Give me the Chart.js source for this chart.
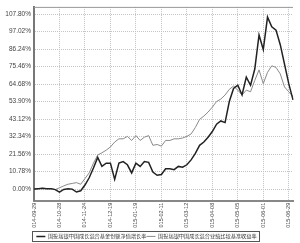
<!DOCTYPE html>
<html>
<head>
<meta charset="utf-8">
<script src="https://cdn.jsdelivr.net/npm/chart.js@4.4.0/dist/chart.umd.min.js"></script>
<style>
  html, body { margin: 0; padding: 0; background: #fff; }
  #wrap { width: 300px; height: 243px; }
</style>
</head>
<body>
<div id="wrap"><canvas id="myChart" width="300" height="243"></canvas></div>
<script>
// x tick labels (one every 6 points)
const tickLabels = ['2014-09-29', '2014-10-28', '2014-11-24', '2014-12-19', '2015-01-19', '2015-02-11',
  '2015-03-12', '2015-04-08', '2015-05-05', '2015-06-01', '2015-06-29'];
const step = 6;

// y ticks
const yTicks = [0, 10.78, 21.56, 32.34, 43.12, 53.90, 64.68, 75.46, 86.24, 97.02, 107.80];

// fund nav growth (%)
const fundValues = [0, 0.3, 0.5, 0.2, 0.3, -0.3, -1.8, -0.2, 0.2, 0, -1.8, -1.0,
  2.5, 7, 13, 19.5, 14, 16, 16, 6, 16, 17, 15, 10,
  16, 14, 17, 16.5, 10.5, 8.5, 9, 12.5, 12.5, 12, 14, 13.5,
  15, 18, 22, 27, 29, 32, 35.5, 40, 42, 41, 54, 62,
  64, 58, 69, 64, 74, 95, 86, 106, 100, 98, 89, 77, 65, 55];

// benchmark return (%)
const benchValues = [0, 0.3, 0.5, 0.3, 0.3, -0.3, 0.8, 2, 3, 3.5, 4, 3,
  6.5, 10, 16, 21, 22.4, 24, 26, 29, 31, 31, 32.5, 30,
  33, 30, 32, 33, 27, 27.5, 26.5, 30, 30, 31, 31, 31.5,
  32.5, 34, 38, 43, 45, 47.5, 50.5, 54, 55.5, 58, 61.5, 63.5,
  61, 58, 61, 60, 67, 73.5, 65, 72, 76, 75, 71, 63, 60, 57];

const fundName = '国投瑞银中国成长混合基金份额净值增长率';
const benchName = '国投瑞银中国成长混合业绩比较基准收益率';

const categories = fundValues.map(function (v, i) { return i; });

const frame = {
  id: 'frame',
  afterLayout(chart) {
    // push the legend a bit lower, under the date labels
    chart.legend.top += 6;
    chart.legend.bottom += 6;
  },
  beforeDatasetsDraw(chart) {
    const c = chart.ctx, a = chart.chartArea;
    c.save();
    c.strokeStyle = '#999';
    c.lineWidth = 1;
    c.beginPath();
    c.moveTo(a.left, a.top + 0.5);
    c.lineTo(a.right, a.top + 0.5);
    c.stroke();
    c.restore();
  },
  afterDraw(chart) {
    const boxes = chart.legend.legendHitBoxes;
    if (!boxes || !boxes.length) return;
    let l = Infinity, r = -Infinity, t = Infinity, b = -Infinity;
    boxes.forEach(function (h) {
      l = Math.min(l, h.left); r = Math.max(r, h.left + h.width);
      t = Math.min(t, h.top); b = Math.max(b, h.top + h.height);
    });
    const c = chart.ctx;
    c.save();
    c.strokeStyle = '#555';
    c.lineWidth = 1;
    c.strokeRect(Math.round(l) - 3.5, Math.round(t) - 2.5, Math.round(r - l) + 7, Math.round(b - t) + 5);
    c.restore();
  }
};

const ctx = document.getElementById('myChart').getContext('2d');
const myChart = new Chart(ctx, {
  type: 'line',
  data: {
    labels: categories,
    datasets: [{
      label: fundName,
      data: fundValues,
      borderColor: '#222',
      borderWidth: 1.5,
      pointRadius: 0,
      tension: 0,
      fill: false
    }, {
      label: benchName,
      data: benchValues,
      borderColor: '#8a8a8a',
      borderWidth: 1,
      pointRadius: 0,
      tension: 0,
      fill: false
    }]
  },
  options: {
    responsive: false,
    animation: false,
    events: [],
    layout: { padding: { left: 0, right: 7, top: 5, bottom: 0 } },
    plugins: {
      tooltip: { enabled: false },
      legend: {
        position: 'bottom',
        labels: {
          color: '#333',
          font: { family: 'Noto Sans CJK SC', size: 5.2 },
          usePointStyle: true,
          pointStyle: 'line',
          pointStyleWidth: 9,
          boxHeight: 5,
          padding: 0
        }
      }
    },
    scales: {
      x: {
        type: 'category',
        offset: false,
        border: { display: true, color: '#888', width: 2, dash: [1, 1] },
        grid: { color: '#c4c4c4', lineWidth: 1, drawTicks: false },
        ticks: {
          autoSkip: false,
          maxRotation: 90,
          minRotation: 90,
          padding: 2,
          color: '#444',
          font: { family: 'Liberation Sans', size: 5.5 },
          callback: function (v, i) {
            return i % step === 0 ? tickLabels[i / step] : null;
          }
        },
        afterFit: function (s) { s.height = 27; }
      },
      y: {
        min: -7.2,
        max: 112.3,
        border: { display: true, color: '#777', width: 2, dash: [1, 1] },
        grid: { color: '#c4c4c4', lineWidth: 1, drawTicks: false },
        afterBuildTicks: function (s) {
          s.ticks = yTicks.map(function (v) { return { value: v }; });
        },
        ticks: {
          padding: 3,
          color: '#444',
          font: { family: 'Liberation Sans', size: 6.5 },
          callback: function (v) { return v.toFixed(2) + '%'; }
        },
        afterFit: function (s) { s.width = 34; }
      }
    }
  },
  plugins: [frame]
});
</script>
</body>
</html>
